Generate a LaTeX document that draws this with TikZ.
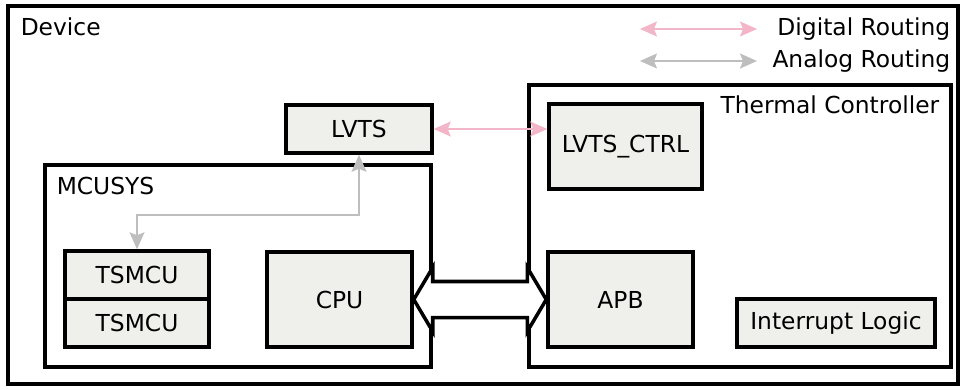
\documentclass[tikz,border=0pt]{standalone}
\usepackage{fontspec}
\setsansfont{DejaVu Sans}
\usetikzlibrary{arrows.meta, calc}
\definecolor{cfill}{HTML}{EFEFEB}
\definecolor{cpink}{HTML}{F2B6C8}
\definecolor{cgrey}{HTML}{BEBEBE}
\tikzset{
  every picture/.style={font=\sffamily\fontsize{13.3}{15}\selectfont, line width=2pt},
  group/.style={draw, inner sep=0pt},
  block/.style={draw, fill=cfill, inner sep=0pt, align=center},
  title/.style={inner sep=0pt},
  routing/.style={{Stealth[length=3.4mm, width=3mm, inset=0.6mm]}-{Stealth[length=3.4mm, width=3mm, inset=0.6mm]}, draw=#1, line width=1pt},
}

\begin{document}
\begin{tikzpicture}[x=0.02cm, y=-0.02cm]
  \useasboundingbox (0,0) rectangle (966,389);
  % device frame and legend
  \node[group, minimum width=19cm, minimum height=7.56cm] (device) at (483,195) {};
  \node[title, anchor=west] (devtitle) at (19,27) {Device};
  \coordinate (dig1) at (640,29); \coordinate (dig2) at (757,29);
  \coordinate (ana1) at (640,61); \coordinate (ana2) at (757,61);
  \node[title, anchor=east] (diglabel) at (952,29) {Digital Routing};
  \node[title, anchor=east] (analabel) at (952,61) {Analog Routing};
  \draw[routing=cpink] (dig1) -- (dig2);
  \draw[routing=cgrey] (ana1) -- (ana2);
  % MCUSYS
  \node[group, minimum width=7.72cm, minimum height=4.04cm] (mcusys) at (238,266) {};
  \node[title, anchor=west] (mcutitle) at (55,186) {MCUSYS};
  \node[block, minimum width=2.88cm, minimum height=0.96cm] (tsmcu1) at (137,275) {TSMCU};
  \node[block, minimum width=2.88cm, minimum height=0.96cm] (tsmcu2) at (137,323) {TSMCU};
  \node[block, minimum width=2.9cm, minimum height=1.9cm] (cpu) at (339.5,299.5) {CPU};
  % thermal controller
  \node[group, minimum width=8.44cm, minimum height=5.64cm] (thermal) at (740,226) {};
  \node[title, anchor=east] (thertitle) at (941,105) {Thermal Controller};
  \node[block, minimum width=3.06cm, minimum height=1.7cm] (lvtsctrl) at (625.5,146.5) {LVTS\_CTRL};
  \node[block, minimum width=2.9cm, minimum height=1.9cm] (apb) at (620.5,299.5) {APB};
  \node[block, minimum width=3.96cm, minimum height=0.96cm] (irq) at (836,323) {Interrupt Logic};
  % sensor
  \node[block, minimum width=2.92cm, minimum height=0.96cm] (lvts) at (359,129) {LVTS};
  \draw[routing=cpink] (lvts.east) -- (lvts.east -| lvtsctrl.west);
  \draw[routing=cgrey] (lvts.south) -- ++(0,60) -| (tsmcu1.north);
  % bus
  \draw[fill=white] (cpu.east) -- ($(cpu.east)+(19,-32)$) -- ($(cpu.east)+(19,-18)$)
    -- ($(apb.west)+(-19,-18)$) -- ($(apb.west)+(-19,-32)$) -- (apb.west)
    -- ($(apb.west)+(-19,32)$) -- ($(apb.west)+(-19,18)$)
    -- ($(cpu.east)+(19,18)$) -- ($(cpu.east)+(19,32)$) -- cycle;
\end{tikzpicture}
\end{document}
